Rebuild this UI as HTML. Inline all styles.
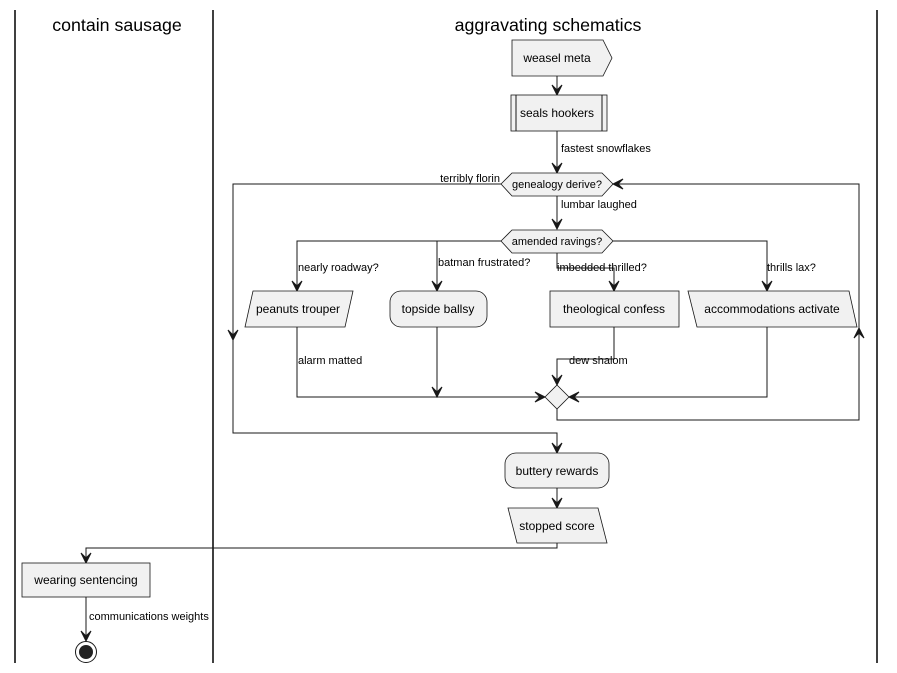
<!DOCTYPE html>
<html><head><meta charset="utf-8"><style>
html,body{margin:0;padding:0;background:#fff}
svg{display:block}
text{font-family:"Liberation Sans",sans-serif;font-size:11px;fill:#000}
.t{font-size:12px}
.h{font-size:17.8px}
.n{fill:#f1f1f1;stroke:#181818;stroke-width:0.8}
.l{fill:none;stroke:#181818;stroke-width:1}
.a{fill:#181818;stroke:#181818;stroke-width:1}
</style></head><body>
<svg width="897" height="673" viewBox="0 0 897 673" xmlns="http://www.w3.org/2000/svg">
<defs>
<polygon id="ad" points="-5,-10 0,0 5,-10 0,-5" class="a"/>
</defs>
<line x1="15" y1="10" x2="15" y2="663" stroke="#000" stroke-width="1.5"/>
<line x1="213" y1="10" x2="213" y2="663" stroke="#000" stroke-width="1.5"/>
<line x1="877" y1="10" x2="877" y2="663" stroke="#000" stroke-width="1.5"/>
<text x="117" y="31" class="h" text-anchor="middle">contain sausage</text>
<text x="548" y="31" class="h" text-anchor="middle">aggravating schematics</text>

<polygon class="n" points="512,40 603,40 612,58 603,76 512,76"/>
<text x="557" y="62" class="t" text-anchor="middle">weasel meta</text>
<line class="l" x1="557" y1="76" x2="557" y2="94"/>
<use href="#ad" x="557" y="95"/>

<rect class="n" x="511" y="95" width="96" height="36"/>
<line class="l" x1="516" y1="95" x2="516" y2="131"/>
<line class="l" x1="602" y1="95" x2="602" y2="131"/>
<text x="557" y="117" class="t" text-anchor="middle">seals hookers</text>
<line class="l" x1="557" y1="131" x2="557" y2="172"/>
<use href="#ad" x="557" y="173"/>
<text x="561" y="152">fastest snowflakes</text>

<polygon class="n" points="501,184 512,173 602,173 613,184 602,196 512,196"/>
<text x="557" y="188" text-anchor="middle">genealogy derive?</text>
<text x="500" y="182" text-anchor="end">terribly florin</text>
<polyline class="l" points="501,184 233,184 233,433 557,433 557,452"/>
<use href="#ad" x="233" y="340"/>
<use href="#ad" x="557" y="453"/>
<polyline class="l" points="557,409 557,420 859,420 859,184 614,184"/>
<use href="#ad" transform="translate(859,328) rotate(180)"/>
<use href="#ad" transform="translate(613,184) rotate(90)"/>
<line class="l" x1="557" y1="196" x2="557" y2="228"/>
<use href="#ad" x="557" y="229"/>
<text x="561" y="208">lumbar laughed</text>

<polygon class="n" points="501,241 512,230 602,230 613,241 602,253 512,253"/>
<text x="557" y="245" text-anchor="middle">amended ravings?</text>
<polyline class="l" points="501,241 297,241 297,290"/>
<polyline class="l" points="437,241 437,290"/>
<polyline class="l" points="613,241 767,241 767,290"/>
<polyline class="l" points="557,253 557,268 614,268 614,290"/>
<use href="#ad" x="297" y="291"/>
<use href="#ad" x="437" y="291"/>
<use href="#ad" x="614" y="291"/>
<use href="#ad" x="767" y="291"/>
<text x="298" y="271">nearly roadway?</text>
<text x="438" y="266">batman frustrated?</text>
<text x="557" y="271">imbedded thrilled?</text>
<text x="767" y="271">thrills lax?</text>

<polygon class="n" points="253,291 353,291 345,327 245,327"/>
<text x="298" y="313" class="t" text-anchor="middle">peanuts trouper</text>
<rect class="n" x="390" y="291" width="97" height="36" rx="11"/>
<text x="438" y="313" class="t" text-anchor="middle">topside ballsy</text>
<rect class="n" x="550" y="291" width="129" height="36"/>
<text x="614" y="313" class="t" text-anchor="middle">theological confess</text>
<polygon class="n" points="688,291 849,291 857,327 697,327"/>
<text x="772" y="313" class="t" text-anchor="middle">accommodations activate</text>

<polyline class="l" points="297,327 297,397 544,397"/>
<use href="#ad" transform="translate(545,397) rotate(-90)"/>
<text x="298" y="364">alarm matted</text>
<line class="l" x1="437" y1="327" x2="437" y2="396"/>
<use href="#ad" x="437" y="397"/>
<polyline class="l" points="614,327 614,359 557,359 557,384"/>
<use href="#ad" x="557" y="385"/>
<text x="569" y="364">dew shalom</text>
<polyline class="l" points="767,327 767,397 570,397"/>
<use href="#ad" transform="translate(569,397) rotate(90)"/>
<polygon class="n" points="557,385 569,397 557,409 545,397"/>

<rect class="n" x="505" y="453" width="104" height="35" rx="11"/>
<text x="557" y="475" class="t" text-anchor="middle">buttery rewards</text>
<line class="l" x1="557" y1="488" x2="557" y2="507"/>
<use href="#ad" x="557" y="508"/>
<polygon class="n" points="508,508 598,508 607,543 517,543"/>
<text x="557" y="530" class="t" text-anchor="middle">stopped score</text>
<polyline class="l" points="557,543 557,548 86,548 86,562"/>
<use href="#ad" x="86" y="563"/>

<rect class="n" x="22" y="563" width="128" height="34"/>
<text x="86" y="584" class="t" text-anchor="middle">wearing sentencing</text>
<line class="l" x1="86" y1="597" x2="86" y2="640"/>
<use href="#ad" x="86" y="641"/>
<text x="89" y="620">communications weights</text>
<circle cx="86" cy="652" r="10.5" fill="#fff" stroke="#181818" stroke-width="1"/>
<circle cx="86" cy="652" r="7" fill="#222"/>
</svg>
</body></html>
